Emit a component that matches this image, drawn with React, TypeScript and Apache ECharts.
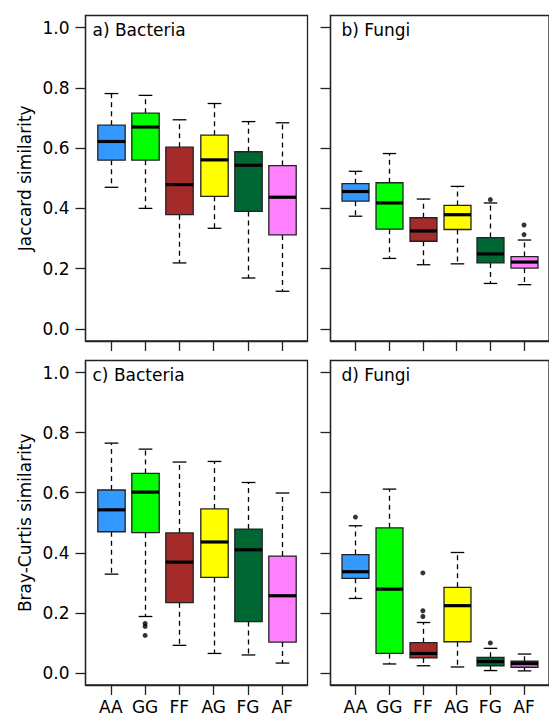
import React, { useEffect, useRef } from "react";
import * as echarts from "echarts";

const categories = ["AA", "GG", "FF", "AG", "FG", "AF"];
const boxColors = ["#3399FF", "#00FF00", "#A52A2A", "#FFFF00", "#006633", "#FF80FF"];
const yTicks = [0, 0.2, 0.4, 0.6, 0.8, 1.0];
const xPositions = [1, 2, 3, 4, 5, 6];

// [lower whisker, Q1, median, Q3, upper whisker]
const jaccardBacteria = [
  [0.470, 0.560, 0.622, 0.676, 0.781],
  [0.400, 0.560, 0.670, 0.716, 0.775],
  [0.219, 0.379, 0.479, 0.603, 0.694],
  [0.334, 0.440, 0.561, 0.643, 0.748],
  [0.169, 0.390, 0.543, 0.588, 0.688],
  [0.125, 0.312, 0.437, 0.542, 0.684],
];
const jaccardFungi = [
  [0.374, 0.424, 0.456, 0.482, 0.523],
  [0.234, 0.331, 0.418, 0.485, 0.582],
  [0.213, 0.291, 0.325, 0.369, 0.431],
  [0.216, 0.330, 0.379, 0.410, 0.473],
  [0.151, 0.219, 0.249, 0.303, 0.418],
  [0.147, 0.202, 0.222, 0.240, 0.295],
];
const brayBacteria = [
  [0.329, 0.470, 0.543, 0.609, 0.765],
  [0.188, 0.467, 0.602, 0.664, 0.745],
  [0.092, 0.234, 0.369, 0.466, 0.702],
  [0.065, 0.318, 0.436, 0.546, 0.704],
  [0.060, 0.171, 0.410, 0.479, 0.634],
  [0.033, 0.103, 0.257, 0.389, 0.599],
];
const brayFungi = [
  [0.248, 0.315, 0.337, 0.394, 0.490],
  [0.030, 0.065, 0.279, 0.483, 0.612],
  [0.024, 0.050, 0.065, 0.101, 0.168],
  [0.020, 0.104, 0.224, 0.285, 0.401],
  [0.008, 0.024, 0.038, 0.052, 0.082],
  [0.007, 0.019, 0.031, 0.039, 0.063],
];

// outliers: [group position, value]
const jaccardBacteriaOutliers: number[][] = [];
const jaccardFungiOutliers = [[5, 0.429], [6, 0.345], [6, 0.313]];
const brayBacteriaOutliers = [[2, 0.165], [2, 0.155], [2, 0.125]];
const brayFungiOutliers = [[1, 0.519], [3, 0.333], [3, 0.207], [3, 0.188], [5, 0.100]];

const panelTitles = ["a) Bacteria", "b) Fungi", "c) Bacteria", "d) Fungi"];
const yNames = ["Jaccard similarity", "", "Bray-Curtis similarity", ""];

const FONT = "DejaVu Sans";
const FS = 17;

function renderBox(params: any, api: any) {
  const x = api.value(0);
  const lo = api.coord([x, api.value(1)]);
  const q1 = api.coord([x, api.value(2)]);
  const med = api.coord([x, api.value(3)]);
  const q3 = api.coord([x, api.value(4)]);
  const hi = api.coord([x, api.value(5)]);
  const w = api.size([0.8, 0])[0];
  const capHalf = w / 4;
  const cx = Math.round(lo[0]) + 0.5;
  const color = boxColors[params.dataIndex];
  const left = cx - w / 2;
  return {
    type: "group",
    children: [
      { type: "line", shape: { x1: cx, y1: q3[1], x2: cx, y2: hi[1] }, style: { stroke: "#000", lineWidth: 1.3, lineDash: [5, 4] } },
      { type: "line", shape: { x1: cx, y1: q1[1], x2: cx, y2: lo[1] }, style: { stroke: "#000", lineWidth: 1.3, lineDash: [5, 4] } },
      { type: "line", shape: { x1: cx - capHalf, y1: hi[1], x2: cx + capHalf, y2: hi[1] }, style: { stroke: "#000", lineWidth: 1.3 } },
      { type: "line", shape: { x1: cx - capHalf, y1: lo[1], x2: cx + capHalf, y2: lo[1] }, style: { stroke: "#000", lineWidth: 1.3 } },
      { type: "rect", shape: { x: left, y: q3[1], width: w, height: q1[1] - q3[1] }, style: { fill: color, stroke: "#222", lineWidth: 1.3 } },
      { type: "line", shape: { x1: left, y1: med[1], x2: left + w, y2: med[1] }, style: { stroke: "#000", lineWidth: 3.2 } },
    ],
  };
}

export default function App() {
  const ref = useRef<HTMLDivElement>(null);
  useEffect(() => {
    if (!ref.current) return;
    const chart = echarts.init(ref.current, undefined, { renderer: "svg" });
    const grids = [
      { left: 85.5, top: 15.5, width: 222, height: 325.5 },
      { left: 330.5, top: 15.5, width: 222, height: 325.5 },
      { left: 85.5, top: 360.5, width: 222, height: 325.5 },
      { left: 330.5, top: 360.5, width: 222, height: 325.5 },
    ].map((g) => ({ ...g, show: true, borderColor: "#222", borderWidth: 1.3, backgroundColor: "transparent" }));

    const xAxis = [0, 1, 2, 3].map((i) => ({
      type: "value",
      gridIndex: i,
      min: 0.26,
      max: 6.74,
      axisLine: { show: true, onZero: false, lineStyle: { color: "#222", width: 1.3 } },
      splitLine: { show: false },
      axisTick: { show: true, inside: false, customValues: xPositions, length: 10, lineStyle: { color: "#222", width: 1.3 } },
      axisLabel: {
        show: i >= 2,
        customValues: xPositions,
        formatter: (v: number) => categories[Math.round(v) - 1] ?? "",
        margin: 13,
        fontSize: FS,
        color: "#000",
        fontFamily: FONT,
      },
    }));

    const yAxis = [0, 1, 2, 3].map((i) => ({
      type: "value",
      gridIndex: i,
      min: -0.04,
      max: 1.04,
      name: yNames[i],
      nameLocation: "middle",
      nameGap: 52,
      nameTextStyle: { fontSize: FS, color: "#000", fontFamily: FONT },
      axisLine: { show: true, onZero: false, lineStyle: { color: "#222", width: 1.3 } },
      splitLine: { show: false },
      axisTick: { show: true, inside: false, customValues: yTicks, length: 10, lineStyle: { color: "#222", width: 1.3 } },
      axisLabel: {
        show: i % 2 === 0,
        customValues: yTicks,
        formatter: (v: number) => v.toFixed(1),
        margin: 16,
        fontSize: FS,
        color: "#000",
        fontFamily: FONT,
      },
    }));

    const boxSets = [jaccardBacteria, jaccardFungi, brayBacteria, brayFungi];
    const outlierSets = [jaccardBacteriaOutliers, jaccardFungiOutliers, brayBacteriaOutliers, brayFungiOutliers];

    const series: any[] = [];
    boxSets.forEach((set, i) => {
      series.push({
        type: "custom",
        xAxisIndex: i,
        yAxisIndex: i,
        renderItem: renderBox,
        encode: { x: 0, y: [1, 2, 3, 4, 5] },
        data: set.map((s, k) => [xPositions[k], ...s]),
        clip: false,
      });
      series.push({
        type: "scatter",
        xAxisIndex: i,
        yAxisIndex: i,
        symbol: "circle",
        symbolSize: 5,
        itemStyle: { color: "#000" },
        data: outlierSets[i],
      });
    });

    const titleX = [92.5, 341.5, 92.5, 341.5];
    const titleY = [30, 30, 375, 375];
    const graphic = panelTitles.map((t, i) => ({
      type: "text",
      x: titleX[i],
      y: titleY[i],
      style: { text: t, fontSize: FS, fontFamily: FONT, fill: "#000", verticalAlign: "middle", align: "left" },
    }));

    chart.setOption({
      animation: false,
      backgroundColor: "#fff",
      grid: grids,
      xAxis,
      yAxis,
      series,
      graphic,
    });
    return () => chart.dispose();
  }, []);
  return <div ref={ref} style={{ position: "absolute", left: 0, top: 0, width: 549, height: 715 }} />;
}
